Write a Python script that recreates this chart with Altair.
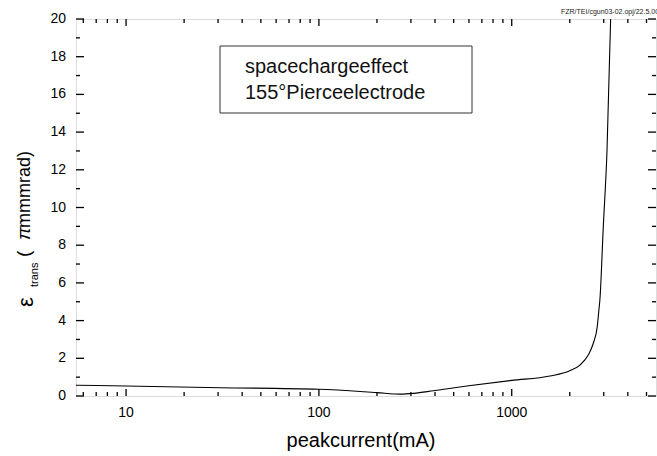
import altair as alt
import pandas as pd

# ---- data ----
current_mA = [5.5, 10, 31, 100, 200, 264, 310, 393, 585, 1000, 1578, 2000, 2258,
              2494, 2649, 2777, 2832, 2865, 2985, 3120, 3258]
emittance = [0.57, 0.53, 0.44, 0.355, 0.18, 0.1, 0.14, 0.28, 0.53, 0.83, 1.06,
             1.34, 1.64, 2.17, 2.8, 3.68, 4.56, 5.09, 9.0, 13.05, 20]

x_major = [10, 100, 1000]
x_major_labels = ["10", "100", "1000"]
x_minor = [6, 7, 8, 9, 20, 30, 40, 50, 60, 70, 80, 90,
           200, 300, 400, 500, 600, 700, 800, 900, 2000, 3000, 4000, 5000]
y_major = [0, 2, 4, 6, 8, 10, 12, 14, 16, 18, 20]
y_major_labels = ["0", "2", "4", "6", "8", "10", "12", "14", "16", "18", "20"]
y_minor = [1, 3, 5, 7, 9, 11, 13, 15, 17, 19]

box_line1 = "spacechargeeffect"
box_line2 = "155°Pierceelectrode"
watermark = "FZR/TEI/cgun03-02.opj/22.5.00"
x_title = "peakcurrent(mA)"

FONT = "Liberation Sans"
W, H = 580, 377
L, T = 76, 19

xscale = alt.Scale(type="log", domain=[5.5, 5600], nice=False)
yscale = alt.Scale(domain=[0, 20], nice=False, zero=False)

df = pd.DataFrame({"x": current_mA, "y": emittance})

line = alt.Chart(df).mark_line(color="black", strokeWidth=1.1, interpolate="monotone", clip=True).encode(
    x=alt.X("x:Q", scale=xscale, axis=None),
    y=alt.Y("y:Q", scale=yscale, axis=None),
)

def xticks(vals, length):
    d = pd.DataFrame({"v": vals})
    bottom = alt.Chart(d).mark_rule(color="black", strokeWidth=1.3).encode(
        x=alt.X("v:Q", scale=xscale, axis=None), y=alt.value(H), y2=alt.value(H - length))
    top = alt.Chart(d).mark_rule(color="black", strokeWidth=1.3).encode(
        x=alt.X("v:Q", scale=xscale, axis=None), y=alt.value(0), y2=alt.value(length))
    return [bottom, top]

def yticks(vals, length):
    d = pd.DataFrame({"v": vals})
    left = alt.Chart(d).mark_rule(color="black", strokeWidth=1.3).encode(
        y=alt.Y("v:Q", scale=yscale, axis=None), x=alt.value(0), x2=alt.value(length))
    right = alt.Chart(d).mark_rule(color="black", strokeWidth=1.3).encode(
        y=alt.Y("v:Q", scale=yscale, axis=None), x=alt.value(W), x2=alt.value(W - length))
    return [left, right]

ticks = xticks(x_major, 7) + xticks(x_minor, 4) + yticks(y_major, 8) + yticks(y_minor, 4)

# tick labels, placed through the scales
xlab = alt.Chart(pd.DataFrame({"v": x_major, "t": x_major_labels})).mark_text(
    align="center", baseline="alphabetic", font=FONT, fontSize=14, color="black").encode(
    x=alt.X("v:Q", scale=xscale, axis=None), y=alt.value(H + 21), text="t:N")
ylab = alt.Chart(pd.DataFrame({"v": y_major, "t": y_major_labels})).mark_text(
    align="right", baseline="middle", font=FONT, fontSize=14, color="black").encode(
    y=alt.Y("v:Q", scale=yscale, axis=None), x=alt.value(-10), text="t:N")

def label(txt, xpos, ypos, size, align="left", color="black", angle=0, italic=False):
    kw = {}
    if angle:
        kw["angle"] = angle
    return alt.Chart(pd.DataFrame({"t": [txt]})).mark_text(
        align=align, baseline="alphabetic", font=FONT, fontSize=size, color=color,
        fontStyle="italic" if italic else "normal", **kw).encode(
        text="t:N", x=alt.value(xpos - L), y=alt.value(ypos - T))

xtitle = label(x_title, 361, 447, 20, align="center")

# annotation box
box = alt.Chart(pd.DataFrame({"a": [0]})).mark_rect(fill=None, stroke="#333333", strokeWidth=1).encode(
    x=alt.value(220 - L), x2=alt.value(472 - L), y=alt.value(46 - T), y2=alt.value(113 - T))
box_t1 = label(box_line1, 245, 72.5, 20, color="#111111")
box_t2 = label(box_line2, 245, 98.5, 20, color="#111111")

wm = label(watermark, 561, 14, 7, color="#222222")

# y axis title pieces (rotated)
ytitle = [
    label("ε", 33, 307, 22, angle=270),
    label("trans", 38, 287, 11, angle=270),
    label("(", 30, 257, 19, angle=270),
    label("π", 30, 240, 19, angle=270, italic=True),
    label("mmmrad)", 30, 228, 18, angle=270),
]

chart = alt.layer(line, *ticks, xlab, ylab, xtitle, box, box_t1, box_t2, wm, *ytitle).properties(
    width=W, height=H,
    autosize=alt.AutoSizeParams(type="none"),
    padding={"left": L, "top": T, "right": 1, "bottom": 60},
).configure_view(stroke="black", strokeWidth=1.5).configure(background="white")

chart.save("out.html", embed_options={"renderer": "svg", "actions": False})
